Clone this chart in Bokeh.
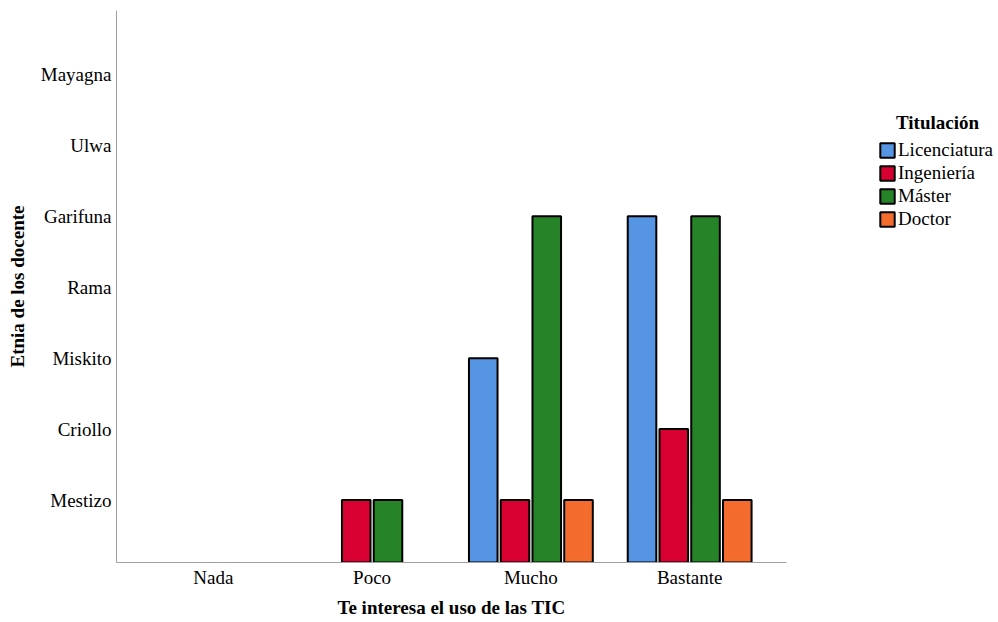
from bokeh.plotting import figure
from bokeh.models import Range1d, FixedTicker, Legend, LegendItem, ColumnDataSource, Label, Title
from bokeh.embed import file_html
from bokeh.resources import INLINE

# Data
categories = ["Nada", "Poco", "Mucho", "Bastante"]
etnias = ["Mestizo", "Criollo", "Miskito", "Rama", "Garifuna", "Ulwa", "Mayagna"]
series = ["Licenciatura", "Ingeniería", "Máster", "Doctor"]
licenciatura = [0, 0, 3, 5]
ingenieria = [0, 1, 1, 2]
master = [0, 1, 5, 5]
doctor = [0, 0, 1, 1]
colors = ["#5595e4", "#d70030", "#278327", "#f36b2d"]
legend_title = "Titulación"
x_title = "Te interesa el uso de las TIC"
y_title = "Etnia de los docente"

FONT = "Liberation Serif"
FS = "19px"
W, H = 998, 622
FL, FT, FB = 116, 10, 59          # frame borders (px)
x_lo, x_hi = 0.39, 4.61           # extent of the category axis
axis_px = 670                     # axis length in px
x_end = x_lo + (x_hi - x_lo) * (W - FL) / axis_px   # frame extends under the legend

y_base = 0.12
p = figure(width=W, height=H, output_backend="svg", toolbar_location=None,
           x_range=Range1d(x_lo, x_end), y_range=Range1d(y_base, 7.9),
           min_border_left=FL, min_border_right=0, min_border_top=FT, min_border_bottom=FB)
p.outline_line_color = None
p.grid.visible = False
p.background_fill_color = "white"
p.border_fill_color = "white"

offsets = [-0.3, -0.1, 0.1, 0.3]
values = [licenciatura, ingenieria, master, doctor]
items = []
for name, vals, off, col in zip(series, values, offsets, colors):
    xs = [i + 1 + off for i, v in enumerate(vals) if v > 0]
    tops = [v for v in vals if v > 0]
    src = ColumnDataSource(dict(x=xs, top=tops, bottom=[y_base] * len(xs)))
    r = p.vbar(x="x", top="top", bottom="bottom", width=0.18, source=src,
               fill_color=col, line_color="black", line_width=2)
    items.append(LegendItem(label=name, renderers=[r]))

# Axes
p.xaxis.ticker = FixedTicker(ticks=[1, 2, 3, 4])
p.xaxis.major_label_overrides = {i + 1: c for i, c in enumerate(categories)}
p.xaxis.bounds = (x_lo, x_hi)
p.yaxis.ticker = FixedTicker(ticks=list(range(1, 8)))
p.yaxis.major_label_overrides = {i + 1: e for i, e in enumerate(etnias)}
for ax in (p.xaxis[0], p.yaxis[0]):
    ax.major_tick_line_color = None
    ax.minor_tick_line_color = None
    ax.axis_line_color = "#a0a0a0"
    ax.axis_line_width = 1
    ax.major_label_text_font = FONT
    ax.major_label_text_font_size = FS
    ax.major_label_text_color = "black"
    ax.axis_label_text_font = FONT
    ax.axis_label_text_font_size = FS
    ax.axis_label_text_font_style = "bold"
    ax.axis_label_text_color = "black"
    ax.major_tick_out = 0
    ax.major_tick_in = 0
p.yaxis.axis_label = y_title
p.xaxis.major_label_standoff = 4
p.yaxis.major_label_standoff = 5
p.yaxis.axis_label_standoff = 10

# x-axis title, centred under the axis (not under the wider frame)
p.add_layout(Title(text=x_title, align="left", offset=221, standoff=9,
                   text_font=FONT, text_font_size=FS, text_font_style="bold",
                   text_color="black"), "below")

legend = Legend(items=items, location=(762, 332), orientation="vertical",
                label_text_font=FONT, label_text_font_size=FS, label_text_color="black",
                glyph_width=18, glyph_height=18, label_height=18, spacing=1,
                label_standoff=2, padding=0, margin=0,
                border_line_color=None, background_fill_alpha=0)
p.add_layout(legend, "center")
p.add_layout(Label(x=821, y=440, x_units="screen", y_units="screen", text=legend_title,
                   text_font=FONT, text_font_size=FS, text_font_style="bold",
                   text_align="center", text_baseline="middle", text_color="black"))

open("out.html", "w").write(file_html(p, INLINE))
